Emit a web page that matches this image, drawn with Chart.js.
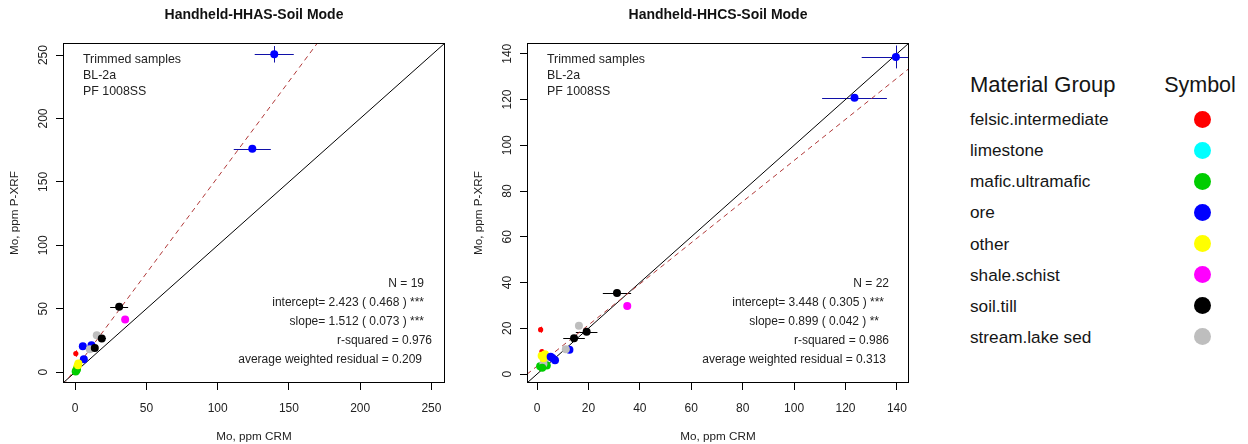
<!DOCTYPE html>
<html>
<head>
<meta charset="utf-8">
<script src="https://cdn.jsdelivr.net/npm/chart.js@4.4.1/dist/chart.umd.min.js"></script>
<style>
  html, body { margin: 0; padding: 0; background: #fff; overflow: hidden; }
  body { width: 1248px; height: 444px; position: relative; font-family: "Liberation Sans", Arial, sans-serif; }
  canvas { position: absolute; top: 0; }
  .lg { position: absolute; white-space: nowrap; color: #151515; height: 24px; line-height: 24px; }
  .dot { position: absolute; border-radius: 50%; }
</style>
</head>
<body>
<canvas id="hhas" width="460" height="444" style="left:0"></canvas>
<canvas id="hhcs" width="460" height="444" style="left:464px"></canvas>
<div id="legend"></div>
<script>
// Material groups and their symbol colours
const groupNames  = ['felsic.intermediate', 'limestone', 'mafic.ultramafic', 'ore', 'other', 'shale.schist', 'soil.till', 'stream.lake sed'];
const groupColors = ['#ff0000', '#00ffff', '#00cd00', '#0000ff', '#ffff00', '#ff00ff', '#000000', '#bebebe'];

// Handheld HHAS, soil mode: CRM value vs P-XRF reading (Mo, ppm)
const hhasGroup  = [3, 3, 6, 5, 7, 6, 3, 3, 7, 6, 0, 3, 4, 4, 2, 2, 4, 2, 4];
const hhasCrm    = [139.7, 124.3, 30.9, 35.1, 15.2, 18.7, 5.4, 11.5, 10.3, 13.8, 0.5, 6.1, 2.3, 1.6, 0.9, 0.4, 1.2, 1.3, 2.0];
const hhasXrf    = [250.6, 176.1, 51.6, 41.6, 29.2, 26.6, 20.5, 21.3, 18.2, 19.0, 14.7, 10.3, 6.8, 4.5, 1.6, 0.6, 3.0, 2.3, 5.5];
const hhasCrmErr = [13.7, 13.0, 6.3, 2.0, 1.0, 3.0, 0.5, 0.8, 0.8, 1.5, 0.2, 0.5, 0.3, 0.3, 0.2, 0.1, 0.2, 0.2, 0.3];
const hhasXrfErr = [6.5, 2.5, 1.5, 1.0, 1.0, 1.0, 1.0, 1.0, 0.8, 1.0, 2.5, 0.8, 0.5, 0.5, 0.3, 0.2, 0.3, 0.3, 0.5];
const hhasTicks  = [0, 50, 100, 150, 200, 250];
const hhasRange  = [-8.5, 259.5];
const hhasIntercept = 2.423, hhasSlope = 1.512;
const hhasStats  = ['N = 19', 'intercept= 2.423 ( 0.468 ) ***', 'slope= 1.512 ( 0.073 ) ***', 'r-squared = 0.976', 'average weighted residual = 0.209'];

// Handheld HHCS, soil mode
const hhcsGroup  = [3, 3, 6, 5, 7, 6, 6, 0, 3, 7, 0, 4, 3, 3, 7, 2, 2, 7, 4, 2, 3, 4];
const hhcsCrm    = [139.6, 123.5, 31.1, 35.1, 16.3, 19.3, 14.4, 1.4, 12.6, 11.2, 1.9, 3.1, 6.0, 7.0, 3.1, 1.2, 3.8, 2.5, 2.5, 2.0, 5.3, 1.8];
const hhcsXrf    = [138.6, 120.8, 35.4, 29.8, 21.1, 18.5, 15.7, 19.4, 10.6, 10.9, 9.8, 8.7, 7.0, 6.0, 6.2, 3.4, 3.8, 4.5, 6.9, 2.8, 7.6, 8.0];
const hhcsCrmErr = [13.3, 12.6, 5.5, 1.2, 1.0, 4.2, 4.2, 0.3, 0.8, 0.6, 0.3, 0.4, 0.6, 0.8, 0.3, 0.3, 0.3, 0.3, 0.3, 0.2, 0.5, 0.3];
const hhcsXrfErr = [5.0, 1.0, 1.0, 0.8, 0.8, 0.8, 0.8, 1.3, 0.8, 0.6, 1.0, 0.6, 0.6, 0.6, 0.5, 0.5, 0.5, 0.5, 0.5, 0.4, 0.6, 0.5];
const hhcsTicks  = [0, 20, 40, 60, 80, 100, 120, 140];
const hhcsRange  = [-3.9, 144.7];
const hhcsIntercept = 3.448, hhcsSlope = 0.899;
const hhcsStats  = ['N = 22', 'intercept= 3.448 ( 0.305 ) ***', 'slope= 0.899 ( 0.042 ) **', 'r-squared = 0.986', 'average weighted residual = 0.313'];

const sampleNotes = ['Trimmed samples', 'BL-2a', 'PF 1008SS'];

const FONT = '"Liberation Sans", Arial, sans-serif';

function drawPanel(id, title, p) {
  const [lo, hi] = p.range;
  const points = p.crm.map((x, i) => ({ x, y: p.xrf[i] }));

  // error bars (+/- one sd in both directions), drawn under the symbols
  const errorBars = {
    id: 'errorBars',
    beforeDatasetsDraw(chart) {
      const { ctx, chartArea: a, scales: { x, y } } = chart;
      ctx.save();
      ctx.beginPath();
      ctx.rect(a.left, a.top, a.right - a.left, a.bottom - a.top);
      ctx.clip();
      ctx.lineWidth = 1;
      p.crm.forEach((cx, i) => {
        const cy = p.xrf[i];
        ctx.strokeStyle = p.group[i] === 3 ? '#1010a8' : groupColors[p.group[i]];
        const px = x.getPixelForValue(cx), py = y.getPixelForValue(cy);
        ctx.beginPath();
        ctx.moveTo(x.getPixelForValue(cx - p.crmErr[i]), Math.round(py) + 0.5);
        ctx.lineTo(x.getPixelForValue(cx + p.crmErr[i]), Math.round(py) + 0.5);
        ctx.moveTo(Math.round(px) + 0.5, y.getPixelForValue(cy - p.xrfErr[i]));
        ctx.lineTo(Math.round(px) + 0.5, y.getPixelForValue(cy + p.xrfErr[i]));
        ctx.stroke();
      });
      ctx.restore();
    }
  };

  // frame, titles, rotated y tick labels and fit statistics
  const decorations = {
    id: 'decorations',
    afterDraw(chart) {
      const { ctx, chartArea: a, scales: { y } } = chart;
      ctx.save();
      ctx.strokeStyle = '#000';
      ctx.lineWidth = 1;
      ctx.strokeRect(a.left + 0.5, a.top + 0.5, a.right - a.left - 1, a.bottom - a.top - 1);

      const cx = (a.left + a.right) / 2, cy = (a.top + a.bottom) / 2;
      ctx.fillStyle = '#111';
      ctx.textAlign = 'center';
      ctx.textBaseline = 'middle';
      ctx.font = 'bold 14px ' + FONT;
      ctx.fillText(title, cx, 15);

      ctx.fillStyle = '#222';
      ctx.font = '11.7px ' + FONT;
      ctx.fillText('Mo, ppm CRM', cx, 437);

      ctx.save();
      ctx.translate(15, cy);
      ctx.rotate(-Math.PI / 2);
      ctx.fillText('Mo, ppm P-XRF', 0, 0);
      ctx.restore();

      ctx.font = '12px ' + FONT;
      y.ticks.forEach(t => {
        ctx.save();
        ctx.translate(44, y.getPixelForValue(t.value));
        ctx.rotate(-Math.PI / 2);
        ctx.fillText(String(t.value), 0, 0);
        ctx.restore();
      });

      ctx.textAlign = 'left';
      ctx.font = '12.4px ' + FONT;
      sampleNotes.forEach((s, i) => ctx.fillText(s, 83, 60 + i * 15.7));

      ctx.textAlign = 'right';
      ctx.font = '12px ' + FONT;
      const rows = [284, 303, 322, 341, 360];
      p.stats.forEach((s, i) => ctx.fillText(s, p.statsRight[i], rows[i]));
      ctx.restore();
    }
  };

  new Chart(document.getElementById(id), {
    type: 'scatter',
    data: {
      datasets: [
        { type: 'line', data: [{ x: lo, y: lo }, { x: hi, y: hi }],
          borderColor: '#000', borderWidth: 1, pointRadius: 0, clip: 0, order: 2 },
        { type: 'line', data: [{ x: lo, y: p.intercept + p.slope * lo }, { x: hi, y: p.intercept + p.slope * hi }],
          borderColor: '#b03838', borderWidth: 1, borderDash: [5, 4], pointRadius: 0, clip: 0, order: 1 },
        { data: points,
          pointBackgroundColor: p.group.map(g => groupColors[g]),
          pointBorderWidth: 0,
          pointRadius: ctx => (p.group[ctx.dataIndex] === 0 ? 2.6 : 4),
          pointHoverRadius: ctx => (p.group[ctx.dataIndex] === 0 ? 2.6 : 4),
          order: 0 }
      ]
    },
    options: {
      responsive: false,
      animation: false,
      devicePixelRatio: 1,
      events: [],
      layout: { padding: { top: 43, right: 15, left: 0, bottom: 0 }, autoPadding: false },
      plugins: { legend: { display: false }, tooltip: { enabled: false } },
      scales: {
        x: {
          type: 'linear', min: lo, max: hi,
          afterBuildTicks: s => { s.ticks = p.ticks.map(v => ({ value: v })); },
          afterFit: s => { s.height = 61; },
          grid: { drawOnChartArea: false, drawTicks: true, tickLength: 7, color: '#000', lineWidth: 1 },
          border: { display: false },
          ticks: { color: '#222', font: { family: FONT, size: 12 }, padding: 11, maxRotation: 0, autoSkip: false }
        },
        y: {
          type: 'linear', min: lo, max: hi,
          afterBuildTicks: s => { s.ticks = p.ticks.map(v => ({ value: v })); },
          afterFit: s => { s.width = 63; },
          grid: { drawOnChartArea: false, drawTicks: true, tickLength: 7, color: '#000', lineWidth: 1 },
          border: { display: false },
          ticks: { display: false }
        }
      }
    },
    plugins: [errorBars, decorations]
  });
}

drawPanel('hhas', 'Handheld-HHAS-Soil Mode', {
  group: hhasGroup, crm: hhasCrm, xrf: hhasXrf, crmErr: hhasCrmErr, xrfErr: hhasXrfErr,
  ticks: hhasTicks, range: hhasRange, intercept: hhasIntercept, slope: hhasSlope,
  stats: hhasStats, statsRight: [424, 424, 424, 432, 422]
});
drawPanel('hhcs', 'Handheld-HHCS-Soil Mode', {
  group: hhcsGroup, crm: hhcsCrm, xrf: hhcsXrf, crmErr: hhcsCrmErr, xrfErr: hhcsXrfErr,
  ticks: hhcsTicks, range: hhcsRange, intercept: hhcsIntercept, slope: hhcsSlope,
  stats: hhcsStats, statsRight: [425, 420, 415, 425, 422]
});

// material group key
const legend = document.getElementById('legend');
function addText(txt, left, cy, size, center) {
  const d = document.createElement('div');
  d.className = 'lg';
  d.textContent = txt;
  d.style.fontSize = size + 'px';
  d.style.top = (cy - 12) + 'px';
  if (center) { d.style.left = (left - 100) + 'px'; d.style.width = '200px'; d.style.textAlign = 'center'; }
  else d.style.left = left + 'px';
  legend.appendChild(d);
}
addText('Material Group', 970, 85, 22, false);
addText('Symbol', 1200, 85, 21.5, true);
groupNames.forEach((name, i) => {
  const cy = 119.3 + i * 31.05;
  addText(name, 970, cy, 17.2, false);
  const dot = document.createElement('div');
  dot.className = 'dot';
  dot.style.width = dot.style.height = '17px';
  dot.style.left = (1202.7 - 8.5) + 'px';
  dot.style.top = (cy - 8.5) + 'px';
  dot.style.background = groupColors[i];
  legend.appendChild(dot);
});
</script>
</body>
</html>
